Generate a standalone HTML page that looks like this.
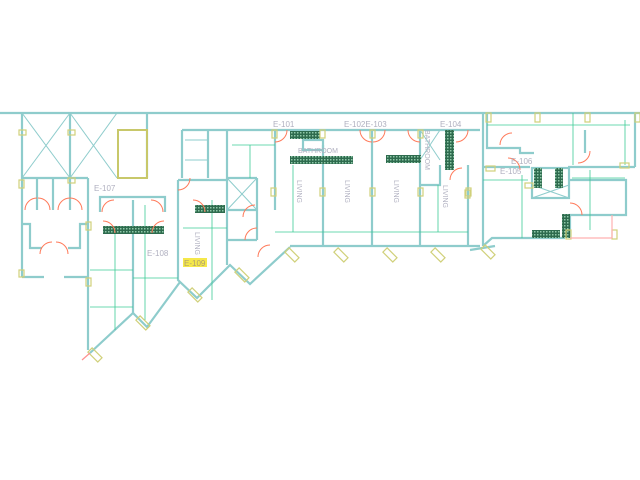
<!DOCTYPE html>
<html><head><style>html,body{margin:0;padding:0;background:#fff}svg{display:block}</style></head><body>
<svg width="640" height="480" viewBox="0 0 640 480" xmlns="http://www.w3.org/2000/svg" font-family="Liberation Sans, sans-serif">
<defs>
<pattern id="h" width="3" height="3" patternUnits="userSpaceOnUse"><rect width="3" height="3" fill="#2e6b4e"/><rect width="1.5" height="1.5" fill="#8fc7a8"/></pattern>
</defs>
<g fill="none" stroke="#8ecccc" stroke-width="2.2">
<!-- top long line -->
<line x1="0" y1="113" x2="640" y2="113"/>
<!-- left bay -->
<line x1="22" y1="113" x2="22" y2="277"/>
<line x1="70" y1="113" x2="70" y2="178"/>
<line x1="147" y1="113" x2="147" y2="178"/>
<line x1="22" y1="178" x2="88" y2="178"/>
<line x1="37" y1="178" x2="37" y2="210"/><line x1="53" y1="178" x2="53" y2="210"/><line x1="70" y1="178" x2="70" y2="210"/>
<polyline points="22,224 30,224 30,248 42,248"/><polyline points="88,224 80,224 80,248 68,248"/>
<line x1="22" y1="277" x2="44" y2="277"/><line x1="64" y1="277" x2="88" y2="277"/>
<line x1="88" y1="178" x2="88" y2="350"/>
<polyline points="100,212 100,197 165,197 165,212"/>
<line x1="133" y1="200" x2="133" y2="313"/>
<polyline points="90,353 133,313 147,327 180,282"/>
<!-- E-109 -->
<polyline points="178,180 178,280 197,298 230,265 250,284 290,247"/>
<line x1="178" y1="180" x2="227" y2="180"/>
<line x1="227" y1="130" x2="227" y2="265"/>
<line x1="182" y1="130" x2="275" y2="130"/>
<line x1="182" y1="130" x2="182" y2="178"/>
<line x1="208" y1="130" x2="208" y2="178"/>
<line x1="257" y1="178" x2="257" y2="240"/>
<line x1="227" y1="178" x2="257" y2="178"/>
<line x1="227" y1="210" x2="257" y2="210"/>
<line x1="227" y1="240" x2="257" y2="240"/>
<line x1="275" y1="130" x2="275" y2="210"/>
<!-- units -->
<line x1="275" y1="130" x2="480" y2="130"/>
<line x1="290" y1="246" x2="480" y2="246"/>
<line x1="323" y1="145" x2="323" y2="246"/>
<line x1="372" y1="130" x2="372" y2="246"/>
<line x1="420" y1="130" x2="420" y2="246"/>
<line x1="468" y1="165" x2="468" y2="246"/>
<polyline points="420,185 440,185 440,165"/>
<rect x="303" y="140" width="20" height="10"/>
<!-- right -->
<line x1="483" y1="113" x2="483" y2="246"/>
<line x1="635" y1="113" x2="635" y2="167"/>
<polyline points="487,113 487,148 520,148 520,153 534,153"/>
<line x1="585" y1="130" x2="585" y2="153"/>
<line x1="483" y1="167" x2="530" y2="167"/>
<line x1="568" y1="167" x2="635" y2="167"/>
<rect x="532" y="168" width="37" height="30"/>
<polyline points="568,180 626,180 626,215 570,215 570,238"/>
<polyline points="483,246 492,238 565,238"/>
<line x1="470" y1="250" x2="495" y2="246"/>
</g>
<g stroke="#8ecccc" stroke-width="1" fill="none">
<line x1="22" y1="113" x2="70" y2="178"/><line x1="70" y1="113" x2="22" y2="178"/>
<line x1="70" y1="113" x2="117" y2="178"/><line x1="117" y1="113" x2="70" y2="178"/>
<line x1="227" y1="178" x2="257" y2="210"/><line x1="257" y1="178" x2="227" y2="210"/>
<line x1="185" y1="140" x2="208" y2="140"/><line x1="185" y1="160" x2="208" y2="160"/>
<line x1="532" y1="185" x2="569" y2="198"/><line x1="569" y1="185" x2="532" y2="198"/>
<line x1="420" y1="130" x2="440" y2="160"/><line x1="440" y1="130" x2="420" y2="160"/>
</g>
<rect x="118" y="130" width="29" height="48" fill="none" stroke="#c8c86a" stroke-width="2"/>
<g stroke="#3dcc96" stroke-width="0.8" fill="none">
<line x1="90" y1="270" x2="133" y2="270"/><line x1="133" y1="278" x2="178" y2="278"/>
<line x1="115" y1="230" x2="115" y2="330"/><line x1="145" y1="205" x2="145" y2="320"/>
<line x1="183" y1="228" x2="227" y2="228"/><line x1="212" y1="200" x2="212" y2="300"/>
<line x1="232" y1="145" x2="275" y2="145"/><line x1="250" y1="145" x2="250" y2="178"/>
<line x1="275" y1="232" x2="468" y2="232"/>
<line x1="293" y1="165" x2="293" y2="232"/><line x1="438" y1="185" x2="438" y2="232"/>
<line x1="487" y1="125" x2="630" y2="125"/><line x1="483" y1="180" x2="528" y2="180"/>
<line x1="572" y1="178" x2="625" y2="178"/><line x1="590" y1="170" x2="590" y2="230"/>
<line x1="522" y1="175" x2="522" y2="238"/><line x1="573" y1="113" x2="573" y2="165"/>
<line x1="625" y1="120" x2="625" y2="165"/><line x1="90" y1="307" x2="133" y2="307"/>
</g>
<g fill="url(#h)">
<rect x="103" y="226" width="61" height="8"/><rect x="195" y="205" width="30" height="8"/>
<rect x="290" y="131" width="30" height="8"/><rect x="290" y="156" width="63" height="8"/>
<rect x="386" y="155" width="35" height="8"/><rect x="445" y="130" width="9" height="40"/>
<rect x="534" y="168" width="8" height="20"/><rect x="555" y="168" width="8" height="20"/>
<rect x="532" y="230" width="28" height="8"/><rect x="562" y="214" width="8" height="24"/>
</g>
<g fill="none" stroke="#ff7a5a" stroke-width="1">
<path d="M25,210 a12,12 0 0 1 12,-12"/><path d="M50,210 a12,12 0 0 0 -12,-12"/>
<path d="M58,210 a12,12 0 0 1 12,-12"/><path d="M82,210 a12,12 0 0 0 -12,-12"/>
<path d="M40,254 a12,12 0 0 1 12,-12"/><path d="M68,254 a12,12 0 0 0 -12,-12"/>
<path d="M102,212 a12,12 0 0 1 12,-12"/><path d="M163,212 a12,12 0 0 0 -12,-12"/>
<path d="M115,233 a12,12 0 0 0 -12,-12"/><path d="M152,233 a12,12 0 0 1 12,-12"/>
<path d="M178,190 a12,12 0 0 0 12,-12"/><path d="M205,212 a12,12 0 0 0 -12,-12"/>
<path d="M275,142 a12,12 0 0 0 12,-12"/><path d="M360,130 a12,12 0 0 0 12,12"/>
<path d="M385,130 a12,12 0 0 1 -12,12"/><path d="M408,130 a12,12 0 0 0 12,12"/>
<path d="M468,130 a12,12 0 0 1 -12,12"/><path d="M255,205 a12,12 0 0 0 -12,12"/>
<path d="M245,240 a12,12 0 0 1 12,-12"/><path d="M270,245 a12,12 0 0 0 -12,12"/>
<path d="M500,145 a12,12 0 0 1 12,-12"/><path d="M520,170 a12,12 0 0 0 -12,-12"/>
<path d="M578,163 a12,12 0 0 0 12,-12"/><path d="M570,203 a12,12 0 0 1 12,12"/>
<path d="M450,180 a12,12 0 0 1 12,-12"/>
</g>
<g fill="none" stroke="#d0d07a" stroke-width="1.2">
<rect x="19" y="130" width="7" height="5"/><rect x="68" y="130" width="7" height="5"/><rect x="68" y="178" width="7" height="5"/>
<rect x="19" y="180" width="5" height="8"/><rect x="86" y="222" width="5" height="8"/><rect x="19" y="270" width="5" height="7"/><rect x="86" y="278" width="5" height="8"/>
<rect x="272" y="130" width="5" height="8"/><rect x="320" y="130" width="5" height="8"/><rect x="370" y="130" width="5" height="8"/><rect x="418" y="130" width="5" height="8"/>
<rect x="271" y="188" width="5" height="8"/><rect x="320" y="188" width="5" height="8"/><rect x="370" y="188" width="5" height="8"/><rect x="418" y="188" width="5" height="8"/><rect x="466" y="188" width="5" height="8"/>
<rect x="486" y="113" width="5" height="9"/><rect x="535" y="113" width="5" height="9"/><rect x="585" y="113" width="5" height="9"/><rect x="635" y="113" width="5" height="9"/>
<rect x="486" y="166" width="9" height="5"/><rect x="620" y="163" width="9" height="5"/><rect x="525" y="183" width="8" height="5"/>
<rect x="566" y="230" width="5" height="9"/><rect x="612" y="230" width="5" height="9"/><rect x="465" y="190" width="5" height="8"/>
<g transform="translate(90,350) rotate(45)"><rect x="0" y="-3" width="14" height="6"/></g>
<g transform="translate(138,318) rotate(45)"><rect x="0" y="-3" width="14" height="6"/></g>
<g transform="translate(190,290) rotate(45)"><rect x="0" y="-3" width="14" height="6"/></g>
<g transform="translate(237,270) rotate(45)"><rect x="0" y="-3" width="14" height="6"/></g>
<g transform="translate(287,250) rotate(45)"><rect x="0" y="-3" width="14" height="6"/></g>
<g transform="translate(336,250) rotate(45)"><rect x="0" y="-3" width="14" height="6"/></g>
<g transform="translate(385,250) rotate(45)"><rect x="0" y="-3" width="14" height="6"/></g>
<g transform="translate(433,250) rotate(45)"><rect x="0" y="-3" width="14" height="6"/></g>
<g transform="translate(483,247) rotate(45)"><rect x="0" y="-3" width="14" height="6"/></g>
</g>
<line x1="570" y1="238" x2="612" y2="238" stroke="#ffb0b0" stroke-width="1.2"/>
<line x1="612" y1="215" x2="612" y2="238" stroke="#ffb0b0" stroke-width="1.2"/>
<line x1="90" y1="353" x2="82" y2="360" stroke="#ff9090" stroke-width="1.2"/>
<g fill="#b0b0c0" font-size="8">
<text x="94" y="191">E-107</text><text x="147" y="256">E-108</text>
<text x="273" y="127">E-101</text><text x="344" y="127">E-102E-103</text><text x="440" y="127">E-104</text>
<text x="511" y="164">E-106</text><text x="500" y="174">E-105</text>
<text x="298" y="153" font-size="7">BATHROOM</text>
</g>
<rect x="183" y="258" width="24" height="9" fill="#f5e84a"/>
<text x="184" y="266" font-size="8" fill="#b0a070">E-109</text>
<g fill="#b0b0c0" font-size="7">
<text transform="translate(195,232) rotate(90)">LIVING</text>
<text transform="translate(297,180) rotate(90)">LIVING</text>
<text transform="translate(345,180) rotate(90)">LIVING</text>
<text transform="translate(394,180) rotate(90)">LIVING</text>
<text transform="translate(443,185) rotate(90)">LIVING</text>
<text transform="translate(425,130) rotate(90)">BATHROOM</text>
</g>
</svg>
</body></html>
